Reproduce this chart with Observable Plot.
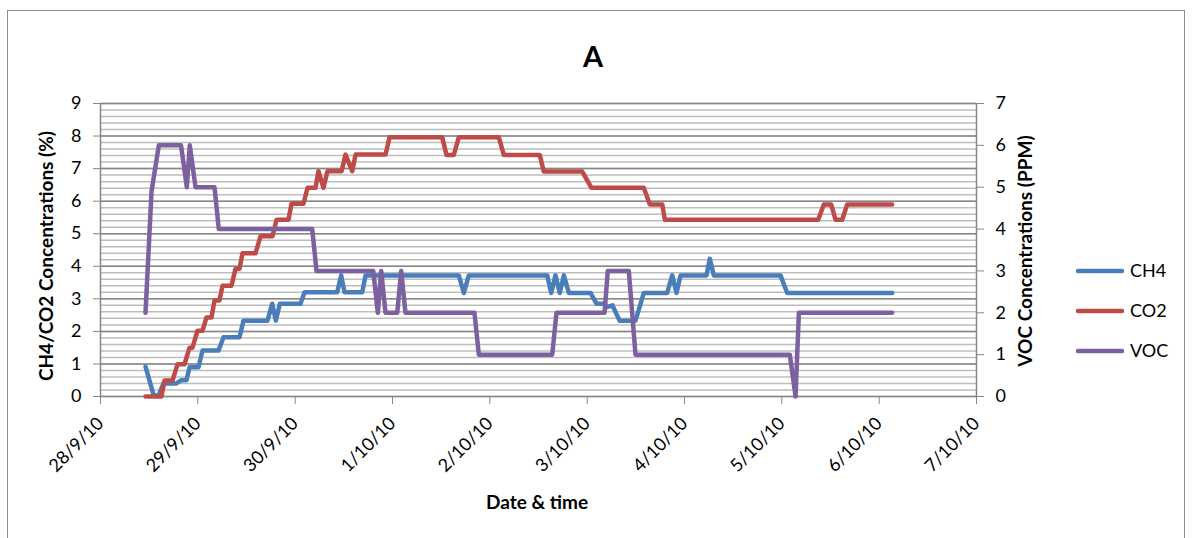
<!DOCTYPE html>
<html><head><meta charset="utf-8">
<script src="https://cdn.jsdelivr.net/npm/d3@7"></script>
<script src="https://cdn.jsdelivr.net/npm/@observablehq/plot@0.6"></script>
<style>
body{margin:0;background:#fff;}
#wrap{position:relative;width:1192px;height:538px;overflow:hidden;background:#fff;}
#frame{position:absolute;left:7px;top:10px;width:1178px;height:560px;border:1.5px solid #8c8c8c;box-sizing:border-box;}
#chart{position:absolute;left:0;top:0;}
</style></head><body>
<div id="wrap"><div id="frame"></div><div id="chart"></div></div>
<script>
// ---- data ----
const seriesNames = ["CH4", "CO2", "VOC"];
const seriesColors = ["#4A7EBB", "#BE4B48", "#7D60A0"];

const ch4Time = ["2010-09-28 11:06","2010-09-28 13:08","2010-09-28 14:18","2010-09-28 15:32","2010-09-28 18:44","2010-09-28 19:58","2010-09-28 21:12","2010-09-28 21:57","2010-09-29 00:10","2010-09-29 01:09","2010-09-29 05:06","2010-09-29 06:20","2010-09-29 10:16","2010-09-29 11:16","2010-09-29 17:11","2010-09-29 18:20","2010-09-29 19:14","2010-09-29 20:13","2010-09-30 01:19","2010-09-30 02:18","2010-09-30 10:22","2010-09-30 11:21","2010-09-30 12:10","2010-09-30 16:32","2010-09-30 17:21","2010-10-01 16:21","2010-10-01 17:35","2010-10-01 18:49","2010-10-02 14:09","2010-10-02 15:08","2010-10-02 16:11","2010-10-02 17:15","2010-10-02 18:15","2010-10-02 19:29","2010-10-03 00:49","2010-10-03 02:18","2010-10-03 04:17","2010-10-03 05:01","2010-10-03 06:15","2010-10-03 07:59","2010-10-03 11:55","2010-10-03 13:58","2010-10-03 19:44","2010-10-03 20:58","2010-10-03 22:02","2010-10-03 23:01","2010-10-04 05:26","2010-10-04 06:14","2010-10-04 07:14","2010-10-04 23:40","2010-10-05 01:20","2010-10-06 03:13"];
const ch4Value = [0.92,0.03,0.03,0.4,0.4,0.5,0.5,0.9,0.9,1.41,1.41,1.82,1.82,2.33,2.33,2.85,2.33,2.85,2.85,3.2,3.2,3.72,3.2,3.2,3.72,3.72,3.18,3.72,3.72,3.18,3.72,3.18,3.72,3.18,3.18,2.85,2.85,2.75,2.8,2.33,2.33,3.18,3.18,3.72,3.18,3.72,3.72,4.23,3.72,3.72,3.18,3.18];

const co2Time = ["2010-09-28 11:06","2010-09-28 15:02","2010-09-28 15:47","2010-09-28 17:45","2010-09-28 18:59","2010-09-28 20:43","2010-09-28 21:57","2010-09-28 22:41","2010-09-28 23:55","2010-09-29 01:09","2010-09-29 02:08","2010-09-29 03:22","2010-09-29 04:07","2010-09-29 05:20","2010-09-29 06:05","2010-09-29 08:18","2010-09-29 09:17","2010-09-29 10:16","2010-09-29 11:01","2010-09-29 14:13","2010-09-29 15:27","2010-09-29 18:25","2010-09-29 19:24","2010-09-29 22:21","2010-09-29 23:06","2010-09-30 02:03","2010-09-30 03:03","2010-09-30 05:01","2010-09-30 05:45","2010-09-30 06:59","2010-09-30 07:58","2010-09-30 11:26","2010-09-30 12:25","2010-09-30 14:04","2010-09-30 14:53","2010-09-30 22:17","2010-09-30 23:16","2010-10-01 12:16","2010-10-01 13:19","2010-10-01 15:07","2010-10-01 16:21","2010-10-02 02:13","2010-10-02 03:27","2010-10-02 12:19","2010-10-02 13:18","2010-10-02 22:47","2010-10-03 01:04","2010-10-03 13:58","2010-10-03 15:27","2010-10-03 18:31","2010-10-03 19:09","2010-10-05 08:58","2010-10-05 10:21","2010-10-05 12:10","2010-10-05 13:14","2010-10-05 14:53","2010-10-05 16:07","2010-10-06 03:13"];
const co2Value = [0,0,0.49,0.49,0.99,0.99,1.5,1.5,2.02,2.02,2.43,2.43,2.95,2.95,3.4,3.4,3.92,3.92,4.4,4.4,4.92,4.92,5.43,5.43,5.92,5.92,6.41,6.41,6.92,6.41,6.92,6.92,7.43,6.92,7.43,7.43,7.96,7.96,7.42,7.42,7.96,7.96,7.42,7.42,6.91,6.91,6.41,6.41,5.9,5.9,5.43,5.43,5.9,5.9,5.43,5.43,5.9,5.9];

const vocTime = ["2010-09-28 11:06","2010-09-28 12:35","2010-09-28 14:23","2010-09-28 19:51","2010-09-28 21:17","2010-09-28 22:01","2010-09-28 23:26","2010-09-29 04:07","2010-09-29 05:10","2010-09-30 04:12","2010-09-30 05:16","2010-09-30 19:15","2010-09-30 20:23","2010-09-30 21:13","2010-09-30 22:17","2010-10-01 01:10","2010-10-01 02:09","2010-10-01 03:12","2010-10-01 20:13","2010-10-01 21:17","2010-10-02 15:23","2010-10-02 16:26","2010-10-03 04:17","2010-10-03 05:05","2010-10-03 10:16","2010-10-03 11:55","2010-10-05 01:58","2010-10-05 03:23","2010-10-05 04:12","2010-10-06 03:13"];
const vocValue = [2,4.9,6,6,5,6,5,5,4,4,3,3,2,3,2,2,3,2,2,1,1,2,2,3,3,1,1,0,2,2];

const xDomain = ["2010-09-28 00:00", "2010-10-07 00:00"];
const leftTicks = [0,1,2,3,4,5,6,7,8,9];
const rightTicks = [0,1,2,3,4,5,6,7];
const leftMax = 9, rightMax = 7;

const titleText = "A";
const leftTitle = "CH4/CO2 Concentrations (%)";
const rightTitle = "VOC Concentrations (PPM)";
const xTitle = "Date & time";

// ---- build ----
const parse = d3.timeParse("%Y-%m-%d %H:%M");
const ratio = leftMax / rightMax; // map right-axis values onto the left scale
const rows = [];
ch4Time.forEach((t, i) => rows.push({series: "CH4", date: parse(t), value: ch4Value[i]}));
co2Time.forEach((t, i) => rows.push({series: "CO2", date: parse(t), value: co2Value[i]}));
vocTime.forEach((t, i) => rows.push({series: "VOC", date: parse(t), value: vocValue[i] * ratio}));

const x0 = parse(xDomain[0]), x1 = parse(xDomain[1]);
const dayTicks = d3.timeDay.range(x0, d3.timeDay.offset(x1, 1));
const minorTicks = d3.range(0, leftMax * 5 + 1).map(i => i / 5);
const gridColor = "#868686";
const font = "Lato, 'Open Sans', sans-serif";

const plot = Plot.plot({
  width: 1192, height: 538,
  marginLeft: 100, marginRight: 216, marginTop: 103, marginBottom: 142,
  x: {type: "time", domain: [x0, x1]},
  y: {domain: [0, leftMax]},
  color: {domain: seriesNames, range: seriesColors},
  style: {fontFamily: font, fontSize: "18px", color: "#000", background: "transparent", overflow: "visible"},
  marks: [
    Plot.ruleY(minorTicks, {stroke: "#bdbdbd", strokeWidth: 1.5}),
    Plot.ruleY(leftTicks, {stroke: gridColor, strokeWidth: 1.5}),
    Plot.ruleX([x0, x1], {stroke: gridColor, strokeWidth: 1.5}),
    Plot.axisY({anchor: "left", ticks: leftTicks, tickSize: 7, tickPadding: 12, stroke: gridColor, label: null, fontSize: 18}),
    Plot.axisY({anchor: "right", ticks: rightTicks.map(r => r * ratio), tickFormat: d => String(Math.round(d / ratio)), tickSize: 7, tickPadding: 12, stroke: gridColor, label: null, fontSize: 18}),
    Plot.axisX({ticks: dayTicks, tickFormat: d3.timeFormat("%-d/%-m/%y"), tickRotate: -45, tickSize: 8, tickPadding: 16, stroke: gridColor, label: null, fontSize: 18}),
    Plot.line(rows, {x: "date", y: "value", z: "series", stroke: "series", strokeWidth: 4.5, strokeLinejoin: "round", strokeLinecap: "round"})
  ]
});
document.getElementById("chart").appendChild(plot);

// titles and legend
const svg = d3.select(plot);
svg.append("text").attr("x", 593).attr("y", 67).attr("text-anchor", "middle")
  .attr("font-family", font).attr("font-weight", "bold").attr("font-size", 29).text(titleText);
svg.append("text").attr("transform", "translate(53,256) rotate(-90)").attr("text-anchor", "middle")
  .attr("font-family", font).attr("font-weight", "bold").attr("font-size", 19).text(leftTitle);
svg.append("text").attr("transform", "translate(1032,251) rotate(-90)").attr("text-anchor", "middle")
  .attr("font-family", font).attr("font-weight", "bold").attr("font-size", 19).text(rightTitle);
svg.append("text").attr("x", 537).attr("y", 509).attr("text-anchor", "middle")
  .attr("font-family", font).attr("font-weight", "bold").attr("font-size", 19).text(xTitle);

const legend = svg.append("g");
seriesNames.forEach((name, i) => {
  const y = 271 + i * 40;
  legend.append("line").attr("x1", 1078).attr("x2", 1122).attr("y1", y).attr("y2", y)
    .attr("stroke", seriesColors[i]).attr("stroke-width", 4.5).attr("stroke-linecap", "round");
  legend.append("text").attr("x", 1130).attr("y", y).attr("dy", "0.35em").attr("text-anchor", "start")
    .attr("font-family", font).attr("font-size", 18).text(name);
});
</script>
</body></html>
